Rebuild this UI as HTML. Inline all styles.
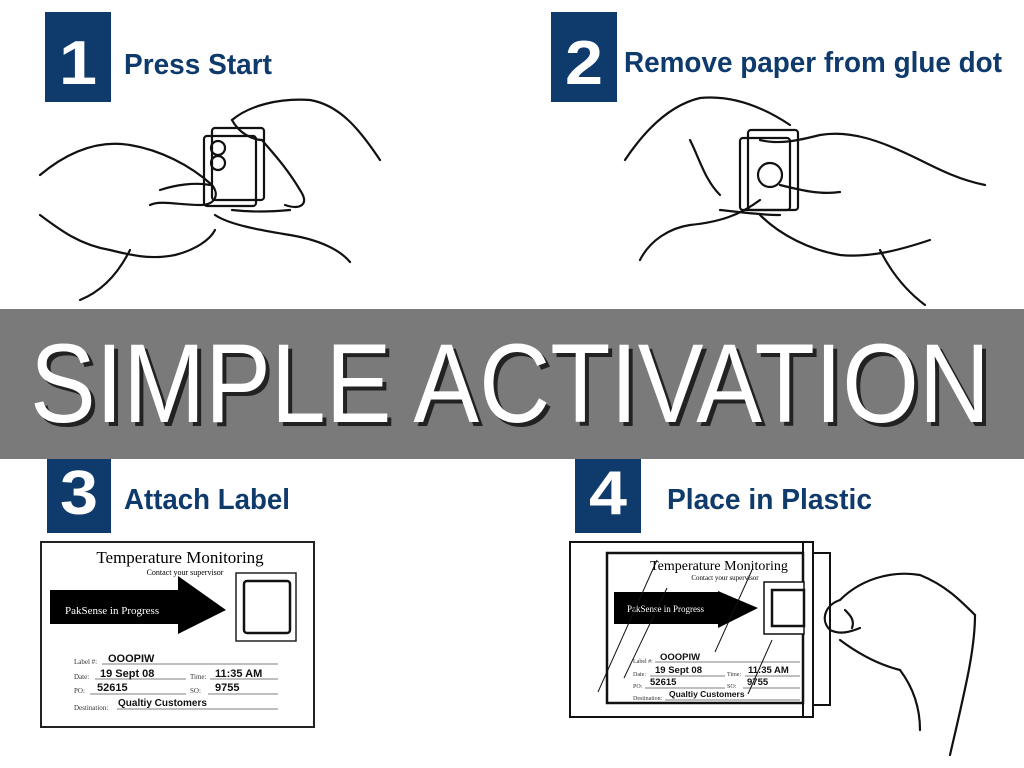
<!DOCTYPE html>
<html><head><meta charset="utf-8"><style>
html,body{margin:0;padding:0;background:#fff;}
svg{display:block}
.step{font-family:"Liberation Sans",sans-serif;font-weight:bold;fill:#0f3a6c;}
.num{font-family:"Liberation Sans",sans-serif;font-weight:bold;fill:#fff;}
.ser{font-family:"Liberation Serif",serif;}
.hw{font-family:"Liberation Sans",sans-serif;font-weight:bold;}
</style></head><body>
<svg width="1024" height="768" viewBox="0 0 1024 768" xmlns="http://www.w3.org/2000/svg">
<rect width="1024" height="768" fill="#fff"/>
<!-- step boxes -->
<rect x="45" y="12" width="66" height="90" fill="#0f3a6c"/>
<text class="num" x="59" y="84" font-size="62" textLength="38" lengthAdjust="spacingAndGlyphs">1</text>
<text class="step" x="124" y="74" font-size="29" textLength="148" lengthAdjust="spacingAndGlyphs">Press Start</text>
<rect x="551" y="12" width="66" height="90" fill="#0f3a6c"/>
<text class="num" x="565" y="84" font-size="62" textLength="38" lengthAdjust="spacingAndGlyphs">2</text>
<text class="step" x="624" y="72" font-size="29" textLength="378" lengthAdjust="spacingAndGlyphs">Remove paper from glue dot</text>
<rect x="47" y="445" width="64" height="88" fill="#0f3a6c"/>
<text class="num" x="60" y="514" font-size="62" textLength="38" lengthAdjust="spacingAndGlyphs">3</text>
<text class="step" x="124" y="509" font-size="29" textLength="166" lengthAdjust="spacingAndGlyphs">Attach Label</text>
<rect x="575" y="443" width="66" height="90" fill="#0f3a6c"/>
<text class="num" x="589" y="514" font-size="62" textLength="38" lengthAdjust="spacingAndGlyphs">4</text>
<text class="step" x="667" y="509" font-size="29" textLength="205" lengthAdjust="spacingAndGlyphs">Place in Plastic</text>

<!-- hands step 1 -->
<g fill="none" stroke="#111" stroke-width="2.2" stroke-linecap="round" stroke-linejoin="round">
<path d="M40 175 C70 150 100 140 130 145 C160 150 190 165 212 185 C220 195 215 205 200 205 C180 205 160 200 150 205"/>
<path d="M40 215 C60 230 80 245 110 250 C130 255 150 260 175 255 C195 250 210 240 215 230"/>
<path d="M130 250 C120 270 105 290 80 300"/>
<path d="M215 215 C230 225 260 230 290 235 C320 240 340 250 350 262"/>
<path d="M232 120 C250 105 280 98 310 100 C340 105 360 130 380 160"/>
<path d="M232 120 C240 135 255 140 262 140"/>
<path d="M262 140 C270 150 285 165 300 190 C310 205 300 210 285 205"/>
<rect x="204" y="136" width="52" height="70" rx="3"/>
<rect x="212" y="128" width="52" height="72" rx="3"/>
<circle cx="218" cy="148" r="7"/><circle cx="218" cy="163" r="7"/>
<path d="M232 210 C250 212 270 212 290 210"/>
<path d="M160 190 C175 185 195 182 210 185"/>
</g>
<!-- hands step 2 -->
<g fill="none" stroke="#111" stroke-width="2.2" stroke-linecap="round" stroke-linejoin="round">
<path d="M625 160 C645 130 670 105 700 98 C730 95 760 105 790 125"/>
<path d="M760 140 C780 145 800 140 820 135 C850 130 880 140 920 160 C940 170 960 180 985 185"/>
<path d="M780 185 C800 190 820 195 840 192"/>
<path d="M760 215 C780 235 810 250 840 255 C870 258 900 250 930 240"/>
<path d="M880 250 C890 270 905 290 925 305"/>
<path d="M760 200 C740 215 720 222 690 225 C670 228 650 240 640 260"/>
<path d="M690 140 C700 160 705 180 720 195"/>
<rect x="748" y="130" width="50" height="80" rx="3"/>
<rect x="740" y="138" width="50" height="72" rx="3"/>
<circle cx="770" cy="175" r="12"/>
<path d="M720 210 C740 212 760 215 780 215"/>
</g>

<!-- banner -->
<rect x="0" y="309" width="1024" height="150" fill="#7a7a7a"/>
<text x="34" y="426" font-family="Liberation Sans,sans-serif" font-size="112" fill="#222" textLength="960" lengthAdjust="spacingAndGlyphs">SIMPLE ACTIVATION</text>
<text x="30" y="422" font-family="Liberation Sans,sans-serif" font-size="112" fill="#fff" textLength="960" lengthAdjust="spacingAndGlyphs">SIMPLE ACTIVATION</text>

<!-- label 3 -->
<g>
<rect x="41" y="542" width="273" height="185" fill="#fff" stroke="#222" stroke-width="2"/>
<text class="ser" x="180" y="563" font-size="17" text-anchor="middle">Temperature Monitoring</text>
<text class="ser" x="185" y="575" font-size="8" text-anchor="middle">Contact your supervisor</text>
<polygon points="50,590 178,590 178,588 178,576 226,610 178,634 178,624 50,624" fill="#000"/>
<text class="ser" x="65" y="614" font-size="11" fill="#fff">PakSense in Progress</text>
<rect x="236" y="573" width="60" height="68" fill="none" stroke="#222" stroke-width="1.5"/>
<rect x="244" y="581" width="46" height="52" rx="3" fill="none" stroke="#111" stroke-width="2.5"/>
<g class="ser" font-size="7" fill="#333">
<text x="74" y="664">Label #:</text><text x="74" y="679">Date:</text><text x="190" y="679">Time:</text>
<text x="74" y="693">PO:</text><text x="190" y="693">SO:</text><text x="74" y="710">Destination:</text>
</g>
<g stroke="#555" stroke-width="0.8">
<line x1="102" y1="664" x2="278" y2="664"/><line x1="95" y1="679" x2="186" y2="679"/><line x1="210" y1="679" x2="278" y2="679"/>
<line x1="90" y1="694" x2="186" y2="694"/><line x1="208" y1="694" x2="278" y2="694"/><line x1="117" y1="709" x2="278" y2="709"/>
</g>
<g class="hw" font-size="11" fill="#111">
<text x="108" y="662">OOOPIW</text><text x="100" y="677">19 Sept 08</text><text x="215" y="677">11:35 AM</text>
<text x="97" y="691">52615</text><text x="215" y="691">9755</text><text x="118" y="706" font-size="10">Qualtiy Customers</text>
</g>
</g>

<!-- label 4 -->
<g>
<rect x="803" y="553" width="27" height="152" fill="#fff" stroke="#111" stroke-width="2"/>
<rect x="570" y="542" width="243" height="175" fill="#fff" stroke="#111" stroke-width="2"/>
<line x1="803" y1="542" x2="803" y2="717" stroke="#111" stroke-width="2"/>
<rect x="607" y="553" width="196" height="150" fill="#fff" stroke="#111" stroke-width="2.5"/>
<text class="ser" x="719" y="570" font-size="14" text-anchor="middle">Temperature Monitoring</text>
<text class="ser" x="725" y="580" font-size="7" text-anchor="middle">Contact your supervisor</text>
<polygon points="614,592 718,592 718,592 718,591 758,608 718,628 718,624 614,624" fill="#000"/>
<text class="ser" x="627" y="612" font-size="9" fill="#fff">PakSense in Progress</text>
<rect x="764" y="582" width="40" height="52" fill="#fff" stroke="#111" stroke-width="1.5"/>
<rect x="772" y="590" width="32" height="36" fill="none" stroke="#111" stroke-width="2.5"/>
<g class="ser" font-size="6" fill="#333">
<text x="633" y="663">Label #:</text><text x="633" y="667" dy="9">Date:</text><text x="727" y="676">Time:</text>
<text x="633" y="688">PO:</text><text x="727" y="688">SO:</text><text x="633" y="700">Destination:</text>
</g>
<g stroke="#555" stroke-width="0.8">
<line x1="655" y1="662" x2="800" y2="662"/><line x1="650" y1="676" x2="725" y2="676"/><line x1="745" y1="676" x2="800" y2="676"/>
<line x1="645" y1="688" x2="725" y2="688"/><line x1="743" y1="688" x2="800" y2="688"/><line x1="665" y1="700" x2="800" y2="700"/>
</g>
<g class="hw" font-size="9.5" fill="#111">
<text x="660" y="660">OOOPIW</text><text x="655" y="673">19 Sept 08</text><text x="748" y="673">11:35 AM</text>
<text x="650" y="685">52615</text><text x="747" y="685">9755</text><text x="669" y="697" font-size="8.5">Qualtiy Customers</text>
</g>
<g stroke="#111" stroke-width="1" fill="none">
<line x1="657" y1="560" x2="598" y2="692"/><line x1="667" y1="588" x2="624" y2="678"/>
<line x1="752" y1="570" x2="715" y2="652"/><line x1="772" y1="640" x2="748" y2="694"/>
</g>
<!-- hand -->
<g fill="none" stroke="#111" stroke-width="2.2" stroke-linecap="round" stroke-linejoin="round">
<path d="M840 600 C860 580 890 570 920 575 C945 585 960 600 975 615"/>
<path d="M840 600 C825 605 820 620 830 630 C840 635 850 632 860 628"/>
<path d="M840 640 C860 655 880 665 900 670 C915 690 920 710 920 730"/>
<path d="M975 615 C975 650 965 690 950 755"/>
<path d="M845 610 C850 615 855 620 852 628"/>
</g>
</g>
</svg>
</body></html>
